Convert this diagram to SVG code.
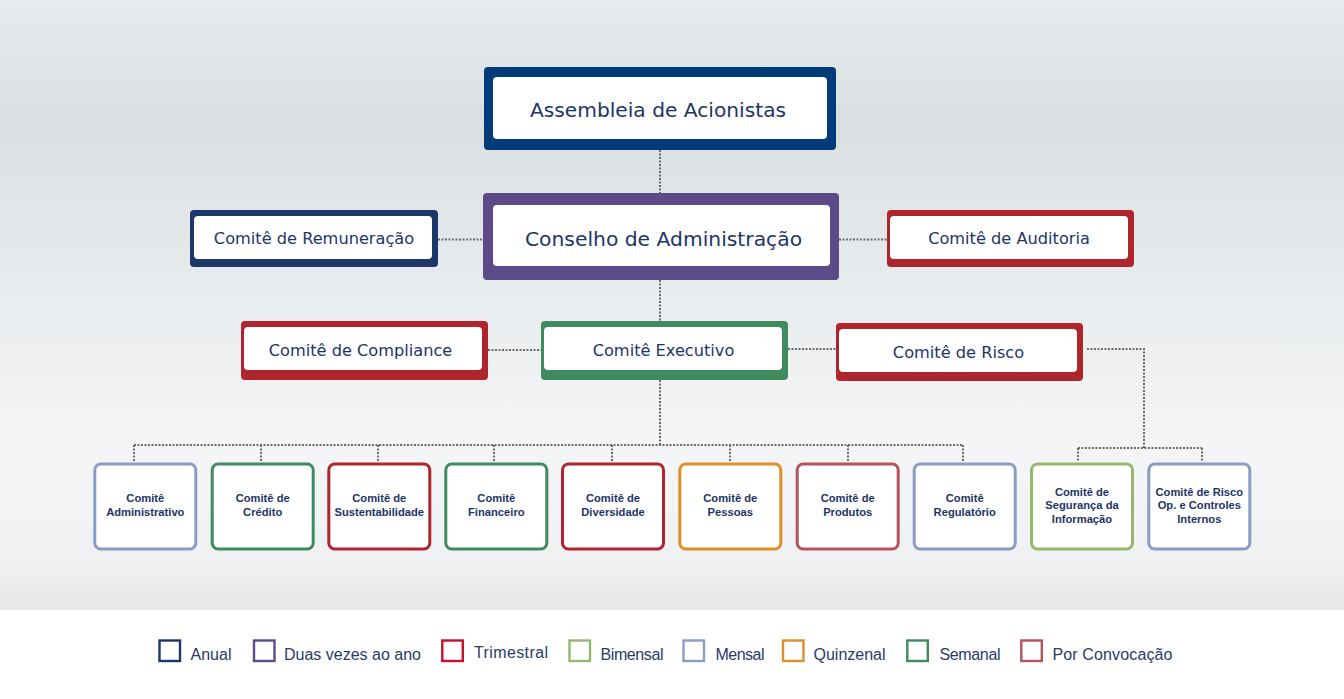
<svg xmlns="http://www.w3.org/2000/svg" width="1344" height="699" viewBox="0 0 1344 699">
<defs>
<linearGradient id="bg" x1="0" y1="0" x2="0" y2="1">
<stop offset="0" stop-color="#e8ebed"/>
<stop offset="0.2" stop-color="#dadfe2"/>
<stop offset="0.5" stop-color="#eaedef"/>
<stop offset="0.75" stop-color="#f4f5f6"/>
<stop offset="0.93" stop-color="#eff0f1"/>
<stop offset="1" stop-color="#e4e6e8"/>
</linearGradient>
<style>
.big{font-family:"DejaVu Sans",Verdana,sans-serif;fill:#1d3566;text-anchor:middle}
.sm{font-family:"Liberation Sans",Arial,sans-serif;font-weight:bold;font-size:11.2px;fill:#1d3566;text-anchor:middle}
.lg{font-family:"Liberation Sans",Arial,sans-serif;font-size:16px;fill:#2a3b68}
.conn path{fill:none;stroke:#6a6a6a;stroke-width:2;stroke-dasharray:2 1.5}
.card{fill:#fff;stroke-width:3}
.key{fill:none;stroke-width:2.4}
</style>
</defs>
<rect x="0" y="0" width="1344" height="610" fill="url(#bg)"/>
<rect x="0" y="610" width="1344" height="89" fill="#ffffff"/>

<g id="connectors" class="conn">
<path d="M660 150V193"/>
<path d="M438 239.5H483"/>
<path d="M839 239.5H887"/>
<path d="M660 280V321"/>
<path d="M488 350H541"/>
<path d="M788 349H836"/>
<path d="M660 380V445"/>
<path d="M134 445H963"/>
<path d="M134 445V462M261 445V462M378 445V462M494 445V462M612 445V462M730 445V462M848 445V462M963 445V462"/>
<path d="M1087 349H1144V448"/>
<path d="M1078 448H1202"/>
<path d="M1078 448V462M1202 448V462"/>
</g>

<g id="assembleia">
<rect x="484" y="67" width="352" height="83" rx="4" fill="#013b79"/>
<rect x="493" y="77" width="334" height="62" rx="4" fill="#fff"/>
<text class="big" x="658" y="117" font-size="20.2">Assembleia de Acionistas</text>
</g>
<g id="conselho">
<rect x="483" y="193" width="356" height="87" rx="4" fill="#5d4a89"/>
<rect x="493" y="205" width="337" height="61" rx="4" fill="#fff"/>
<text class="big" x="663.5" y="246" font-size="20.3">Conselho de Administração</text>
</g>
<g id="remuneracao">
<rect x="190" y="210" width="248" height="57" rx="4" fill="#1c3767"/>
<rect x="194" y="216" width="238" height="43" rx="4" fill="#fff"/>
<text class="big" x="314" y="244" font-size="16.2">Comitê de Remuneração</text>
</g>
<g id="auditoria">
<rect x="887" y="210" width="247" height="57" rx="4" fill="#ae252d"/>
<rect x="890" y="216" width="238" height="43" rx="4" fill="#fff"/>
<text class="big" x="1009" y="244" font-size="16.2">Comitê de Auditoria</text>
</g>
<g id="compliance">
<rect x="241" y="321" width="247" height="59" rx="4" fill="#ae252d"/>
<rect x="244" y="327" width="238" height="43" rx="4" fill="#fff"/>
<text class="big" x="360.5" y="356" font-size="16.2">Comitê de Compliance</text>
</g>
<g id="executivo">
<rect x="541" y="321" width="247" height="59" rx="4" fill="#3f8a5e"/>
<rect x="544" y="327" width="238" height="43" rx="4" fill="#fff"/>
<text class="big" x="663.5" y="356" font-size="16.2">Comitê Executivo</text>
</g>
<g id="risco">
<rect x="836" y="323" width="247" height="58" rx="4" fill="#ae252d"/>
<rect x="839" y="329" width="238" height="43" rx="4" fill="#fff"/>
<text class="big" x="958.5" y="358" font-size="16.2">Comitê de Risco</text>
</g>

<g id="administrativo">
<rect class="card" x="94.8" y="464" width="101" height="85" rx="6" stroke="#8a9cc2"/>
<text class="sm" x="145.3" y="502">Comitê</text>
<text class="sm" x="145.3" y="516">Administrativo</text>
</g>
<g id="credito">
<rect class="card" x="212.2" y="464" width="101" height="85" rx="6" stroke="#3f8a5e"/>
<text class="sm" x="262.7" y="502">Comitê de</text>
<text class="sm" x="262.7" y="516">Crédito</text>
</g>
<g id="sustentabilidade">
<rect class="card" x="328.8" y="464" width="101" height="85" rx="6" stroke="#ae252d"/>
<text class="sm" x="379.3" y="502">Comitê de</text>
<text class="sm" x="379.3" y="516">Sustentabilidade</text>
</g>
<g id="financeiro">
<rect class="card" x="445.8" y="464" width="101" height="85" rx="6" stroke="#3f8a5e"/>
<text class="sm" x="496.3" y="502">Comitê</text>
<text class="sm" x="496.3" y="516">Financeiro</text>
</g>
<g id="diversidade">
<rect class="card" x="562.5" y="464" width="101" height="85" rx="6" stroke="#ae252d"/>
<text class="sm" x="613" y="502">Comitê de</text>
<text class="sm" x="613" y="516">Diversidade</text>
</g>
<g id="pessoas">
<rect class="card" x="679.8" y="464" width="101" height="85" rx="6" stroke="#de8f2a"/>
<text class="sm" x="730.3" y="502">Comitê de</text>
<text class="sm" x="730.3" y="516">Pessoas</text>
</g>
<g id="produtos">
<rect class="card" x="797.2" y="464" width="101" height="85" rx="6" stroke="#b5535e"/>
<text class="sm" x="847.7" y="502">Comitê de</text>
<text class="sm" x="847.7" y="516">Produtos</text>
</g>
<g id="regulatorio">
<rect class="card" x="914.2" y="464" width="101" height="85" rx="6" stroke="#8a9cc2"/>
<text class="sm" x="964.7" y="502">Comitê</text>
<text class="sm" x="964.7" y="516">Regulatório</text>
</g>
<g id="seguranca">
<rect class="card" x="1031.5" y="464" width="101" height="85" rx="6" stroke="#95b76e"/>
<text class="sm" x="1082" y="495.5">Comitê de</text>
<text class="sm" x="1082" y="509">Segurança da</text>
<text class="sm" x="1082" y="523">Informação</text>
</g>
<g id="risco-op">
<rect class="card" x="1148.8" y="464" width="101" height="85" rx="6" stroke="#8a9cc2"/>
<text class="sm" x="1199.3" y="495.5">Comitê de Risco</text>
<text class="sm" x="1199.3" y="509">Op. e Controles</text>
<text class="sm" x="1199.3" y="523">Internos</text>
</g>

<g id="legend">
<rect class="key" x="159.5" y="640.5" width="20.5" height="20.5" stroke="#1d3566"/>
<text class="lg" x="190.5" y="659.5" textLength="41" lengthAdjust="spacing">Anual</text>
<rect class="key" x="254" y="640.5" width="20.5" height="20.5" stroke="#5d4a89"/>
<text class="lg" x="284" y="659.5" textLength="137" lengthAdjust="spacing">Duas vezes ao ano</text>
<rect class="key" x="442.3" y="640.5" width="20.5" height="20.5" stroke="#c8102e"/>
<text class="lg" x="474" y="657.5" textLength="74" lengthAdjust="spacing">Trimestral</text>
<rect class="key" x="569.5" y="640.5" width="20.5" height="20.5" stroke="#95b76e"/>
<text class="lg" x="600.5" y="659.5" textLength="63" lengthAdjust="spacing">Bimensal</text>
<rect class="key" x="683.5" y="640.5" width="20.5" height="20.5" stroke="#8a9cc2"/>
<text class="lg" x="715.5" y="659.5" textLength="49" lengthAdjust="spacing">Mensal</text>
<rect class="key" x="783" y="640.5" width="20.5" height="20.5" stroke="#de8f2a"/>
<text class="lg" x="813.5" y="659.5" textLength="72" lengthAdjust="spacing">Quinzenal</text>
<rect class="key" x="907.3" y="640.5" width="20.5" height="20.5" stroke="#3f8a5e"/>
<text class="lg" x="939.5" y="659.5" textLength="61" lengthAdjust="spacing">Semanal</text>
<rect class="key" x="1021.3" y="640.5" width="20.5" height="20.5" stroke="#b5535e"/>
<text class="lg" x="1052.5" y="659.5" textLength="120" lengthAdjust="spacing">Por Convocação</text>
</g>
</svg>
